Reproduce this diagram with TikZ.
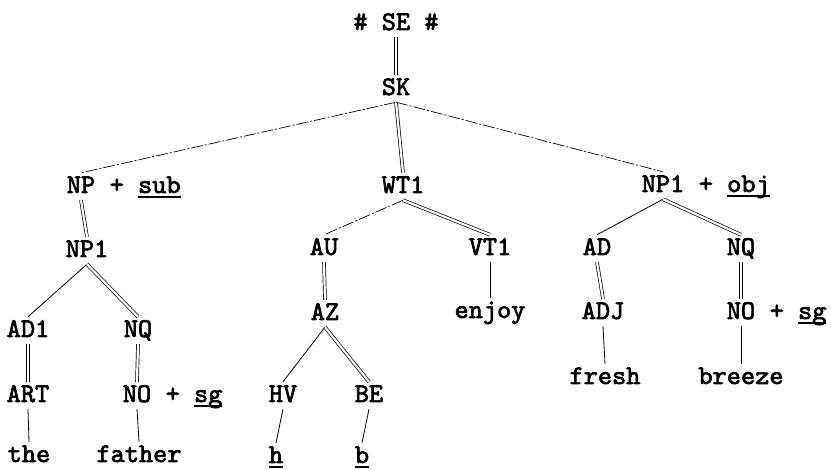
\documentclass[tikz,border=0pt]{standalone}
\usepackage{fontspec}
\newfontfamily\twfont{lmmono10-regular.otf}[FakeBold=2.5]
\newcommand\lbfont{\fontsize{27}{30}\selectfont\twfont}
\newcommand\ulw[1]{\setbox0=\hbox{#1}\leavevmode\rlap{\rule[-5.5pt]{\wd0}{2pt}}\box0}
\begin{document}
\begin{tikzpicture}[x=1pt,y=-1pt,
  lab/.style={anchor=base, inner xsep=0pt, inner ysep=3pt, text height=17pt, text depth=4pt, font=\lbfont},
  sfx/.style={lab, anchor=base west},
  sgl/.style={line width=0.8pt},
  fad/.style={line width=0.7pt, dash pattern=on 12pt off 2pt on 2pt off 2pt},
  dbl/.style={double, double distance=2.2pt, line width=0.7pt}]
\useasboundingbox (0,0) rectangle (831,470);
% level 0
\node[lab] (se) at (396,30) {\#\ SE\ \#};
\node[lab] (sk) at (396,95) {SK};
% level 1
\node[lab] (np) at (81,193) {NP};
\node[sfx] (npsub) at (np.base east) {\ +\ \ulw{sub}};
\node[lab] (wt) at (403,193) {WT1};
\node[lab] (npo) at (663,192) {NP1};
\node[sfx] (npobj) at (npo.base east) {\ +\ \ulw{obj}};
% left subtree
\node[lab] (npl) at (87,257) {NP1};
\node[lab] (adl) at (28,337) {AD1};
\node[lab] (nql) at (138,337) {NQ};
\node[lab] (art) at (28,402) {ART};
\node[lab] (nol) at (137,402) {NO};
\node[sfx] (nolsg) at (nol.base east) {\ +\ \ulw{sg}};
\node[lab] (the) at (29,462) {the};
\node[lab] (fat) at (139,462) {father};
% middle subtree
\node[lab] (au) at (324,255) {AU};
\node[lab] (az) at (325,320) {AZ};
\node[lab] (hv) at (283,402) {HV};
\node[lab] (be) at (369,402) {BE};
\node[lab] (h) at (276,463) {\ulw{h}};
\node[lab] (b) at (362,463) {\ulw{b}};
\node[lab] (vt) at (490,255) {VT1};
\node[lab] (enj) at (490,318) {enjoy};
% right subtree
\node[lab] (ad) at (597,255) {AD};
\node[lab] (adj) at (603,319) {ADJ};
\node[lab] (fre) at (605,384) {fresh};
\node[lab] (nqr) at (741,255) {NQ};
\node[lab] (nor) at (741,319) {NO};
\node[sfx] (norsg) at (nor.base east) {\ +\ \ulw{sg}};
\node[lab] (bre) at (741,384) {breeze};
% connectors
\draw[dbl] (se.south) -- (sk.north);
\draw[fad] (sk.south) -- (np.north);
\draw[dbl] (sk.south) -- (wt.north);
\draw[fad] (sk.south) -- (npo.north);
\draw[dbl] (np.south) -- (npl.north);
\draw[sgl] (npl.south) -- (adl.north);
\draw[dbl] (npl.south) -- (nql.north);
\draw[dbl] (adl.south) -- (art.north);
\draw[dbl] (nql.south) -- (nol.north);
\draw[sgl] (art.south) -- (the.north);
\draw[sgl] (nol.south) -- (fat.north);
\draw[fad] (wt.south) -- (au.north);
\draw[dbl] (wt.south) -- (vt.north);
\draw[dbl] (au.south) -- (az.north);
\draw[sgl] (az.south) -- (hv.north);
\draw[dbl] (az.south) -- (be.north);
\draw[sgl] (hv.south) -- (h.north);
\draw[sgl] (be.south) -- (b.north);
\draw[sgl] (vt.south) -- (enj.north);
\draw[sgl] (npo.south) -- (ad.north);
\draw[dbl] (npo.south) -- (nqr.north);
\draw[dbl] (ad.south) -- (adj.north);
\draw[dbl] (nqr.south) -- (nor.north);
\draw[sgl] (adj.south) -- (fre.north);
\draw[sgl] (nor.south) -- (bre.north);
\end{tikzpicture}
\end{document}
